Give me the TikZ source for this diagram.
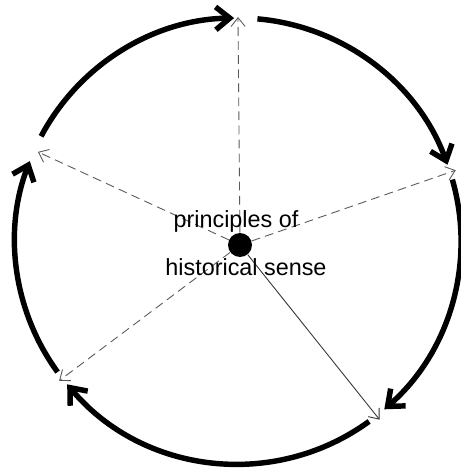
\documentclass[tikz,border=0pt]{standalone}
\usepackage{fontspec}
\setmainfont{Liberation Sans}
\usetikzlibrary{arrows.meta}

\begin{document}
\begin{tikzpicture}[x=0.02cm,y=0.02cm,
  rim/.style={line width=3.1pt, -{Straight Barb[length=8pt,width=13pt]}},
  spoke/.style={black!65, line width=0.5pt, -{Straight Barb[length=5pt,width=8pt]}},
  dashspoke/.style={spoke, dash pattern=on 5pt off 3pt},
  solidspoke/.style={spoke, black!80},
  label/.style={font=\fontsize{13.3}{16}\selectfont, inner sep=0pt, anchor=base}]
\useasboundingbox (0,0) rectangle (461,468);

% hub
\coordinate (c) at (238,227);
\node[circle, fill, minimum size=0.48cm, inner sep=0pt] (hub) at (240,223) {};

% circle of arrows
\foreach \s/\e in {152/91, 85/20, 16/-49, -54/-140, -144/-201} {
  \draw[rim] ([shift={(\s:223)}]c) arc[start angle=\s, end angle=\e, radius=223];
}

% spokes
\foreach \name/\a/\r/\kind in {top/90/224/dashspoke, right/18/229/dashspoke,
    lowright/-51.6/228/solidspoke, lowleft/218/227/dashspoke, left/156/219/dashspoke} {
  \coordinate (\name) at ([shift={(\a:\r)}]c);
  \draw[\kind] (hub) -- (\name);
}

\node[label] (line1) at (236,241) {principles of};
\node[label] (line2) at (246,193) {historical sense};
\end{tikzpicture}
\end{document}
